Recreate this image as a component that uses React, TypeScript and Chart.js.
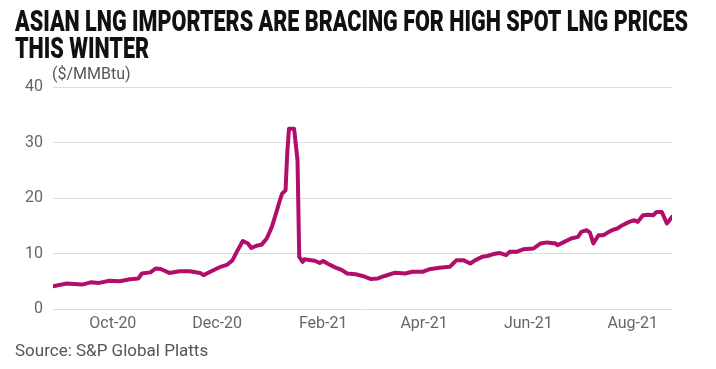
import React, { useEffect, useRef } from "react";
import { Chart, registerables } from "chart.js";

Chart.register(...registerables);

const TITLE_LINES = [
  "ASIAN LNG IMPORTERS ARE BRACING FOR HIGH SPOT LNG PRICES",
  "THIS WINTER",
];
const UNIT_LABEL = "($/MMBtu)";
const SOURCE = "Source: S&P Global Platts";

const START_DATE = "2020-08-27";
const END_DATE = "2021-08-24";

const MONTH_TICKS = ["2020-10-01", "2020-12-01", "2021-02-01", "2021-04-01", "2021-06-01", "2021-08-01"];
const MONTH_LABELS = ["Oct-20", "Dec-20", "Feb-21", "Apr-21", "Jun-21", "Aug-21"];

const Y_MIN = 0;
const Y_MAX = 40;
const Y_STEP = 10;

const DATES = [
  "2020-08-27", "2020-09-04", "2020-09-13", "2020-09-18", "2020-09-23", "2020-09-29",
  "2020-10-05", "2020-10-11", "2020-10-16", "2020-10-18", "2020-10-23", "2020-10-26",
  "2020-10-29", "2020-11-03", "2020-11-09", "2020-11-15", "2020-11-21", "2020-11-23",
  "2020-11-27", "2020-12-03", "2020-12-07", "2020-12-10", "2020-12-13", "2020-12-16",
  "2020-12-19", "2020-12-21", "2020-12-24", "2020-12-27", "2020-12-30", "2021-01-02",
  "2021-01-05", "2021-01-07", "2021-01-08", "2021-01-10", "2021-01-11", "2021-01-12",
  "2021-01-15", "2021-01-17", "2021-01-18", "2021-01-20", "2021-01-21", "2021-01-27",
  "2021-01-30", "2021-02-01", "2021-02-04", "2021-02-08", "2021-02-12", "2021-02-15",
  "2021-02-20", "2021-02-24", "2021-03-01", "2021-03-05", "2021-03-09", "2021-03-15",
  "2021-03-21", "2021-03-25", "2021-03-31", "2021-04-04", "2021-04-10", "2021-04-16",
  "2021-04-18", "2021-04-20", "2021-04-24", "2021-04-28", "2021-05-01", "2021-05-05",
  "2021-05-08", "2021-05-11", "2021-05-15", "2021-05-19", "2021-05-21", "2021-05-25",
  "2021-05-29", "2021-06-04", "2021-06-08", "2021-06-12", "2021-06-17", "2021-06-18",
  "2021-06-22", "2021-06-26", "2021-06-30", "2021-07-02", "2021-07-05", "2021-07-07",
  "2021-07-09", "2021-07-12", "2021-07-15", "2021-07-18", "2021-07-20", "2021-07-23",
  "2021-07-26", "2021-07-30", "2021-08-02", "2021-08-04", "2021-08-07", "2021-08-10",
  "2021-08-13", "2021-08-15", "2021-08-18", "2021-08-21", "2021-08-24",
];

const PRICES = [
  4.1, 4.6, 4.4, 4.8, 4.7, 5.1,
  5.0, 5.35, 5.5, 6.4, 6.6, 7.3,
  7.2, 6.5, 6.8, 6.8, 6.5, 6.1,
  6.7, 7.6, 8.0, 8.8, 10.6, 12.25,
  11.8, 11.0, 11.4, 11.6, 12.7, 14.8,
  17.8, 19.9, 20.8, 21.4, 28.1, 32.5,
  32.5, 26.8, 9.4, 8.5, 8.95, 8.7,
  8.3, 8.65, 8.1, 7.5, 7.0, 6.4,
  6.25, 5.95, 5.4, 5.5, 5.95, 6.55,
  6.4, 6.7, 6.7, 7.15, 7.45, 7.6,
  8.2, 8.8, 8.8, 8.2, 8.8, 9.4,
  9.55, 9.85, 10.1, 9.7, 10.3, 10.3,
  10.75, 10.9, 11.8, 12.0, 11.8, 11.5,
  12.1, 12.7, 13.0, 13.9, 14.2, 13.75,
  11.8, 13.3, 13.3, 13.9, 14.2, 14.5,
  15.1, 15.7, 16.0, 15.7, 16.9, 17.0,
  16.9, 17.5, 17.5, 15.4, 16.6,
];

const DAY_MS = 86400000;
const toMs = (d: string) => Date.parse(d + "T00:00:00Z");
const dayIndex = (d: string) => Math.round((toMs(d) - toMs(START_DATE)) / DAY_MS);

const textPlugin = {
  id: "textPlugin",
  afterDraw(chart: any) {
    const ctx = chart.ctx as CanvasRenderingContext2D;
    ctx.save();
    ctx.fillStyle = "#111111";
    ctx.font = "900 29px Roboto";
    ctx.textBaseline = "alphabetic";
    ctx.textAlign = "left";
    const w = ctx.measureText(TITLE_LINES[0]).width;
    const sx = 673 / w;
    TITLE_LINES.forEach((line, i) => {
      ctx.save();
      ctx.translate(15, 31 + i * 27);
      ctx.scale(sx, 1);
      ctx.fillText(line, 0, 0);
      ctx.restore();
    });
    ctx.fillStyle = "#555555";
    ctx.font = "16px Roboto";
    ctx.fillText(UNIT_LABEL, 52, 79);
    ctx.font = "17px Roboto";
    ctx.fillText(SOURCE, 15, 356);
    ctx.restore();
  },
};

export default function App() {
  const ref = useRef<HTMLCanvasElement | null>(null);

  useEffect(() => {
    if (!ref.current) return;
    const points = DATES.map((d, i) => ({ x: dayIndex(d), y: PRICES[i] }));
    const tickDays = MONTH_TICKS.map(dayIndex);
    const chart = new Chart(ref.current, {
      type: "line",
      data: {
        datasets: [
          {
            data: points,
            borderColor: "#b00e6a",
            borderWidth: 4,
            pointRadius: 0,
            tension: 0,
            borderJoinStyle: "round",
            borderCapStyle: "round",
          },
        ],
      },
      options: {
        animation: false,
        responsive: false,
        maintainAspectRatio: false,
        layout: { padding: { top: 87, right: 44, left: 0, bottom: 0 } },
        plugins: {
          legend: { display: false },
          tooltip: { enabled: false },
          title: { display: false },
        },
        scales: {
          x: {
            type: "linear",
            min: 0,
            max: dayIndex(END_DATE),
            grid: { display: false, drawTicks: false },
            border: { display: false },
            afterBuildTicks: (scale: any) => {
              scale.ticks = tickDays.map((v) => ({ value: v }));
            },
            afterFit: (scale: any) => {
              scale.height = 60;
            },
            ticks: {
              autoSkip: false,
              maxRotation: 0,
              padding: 5,
              color: "#666666",
              font: { family: "Roboto", size: 16 },
              callback: (_v: any, i: number) => MONTH_LABELS[i] ?? "",
            },
          },
          y: {
            min: Y_MIN,
            max: Y_MAX,
            grid: { color: "#dddddd", lineWidth: 1, drawTicks: false },
            border: { display: false },
            afterFit: (scale: any) => {
              scale.width = 53;
            },
            ticks: {
              stepSize: Y_STEP,
              padding: 10,
              color: "#666666",
              font: { family: "Roboto", size: 16 },
            },
          },
        },
      },
      plugins: [textPlugin],
    });
    return () => chart.destroy();
  }, []);

  return (
    <div style={{ position: "fixed", left: 0, top: 0, width: 716, height: 369, background: "#ffffff" }}>
      <canvas ref={ref} width={716} height={369} style={{ width: 716, height: 369, display: "block" }} />
    </div>
  );
}
